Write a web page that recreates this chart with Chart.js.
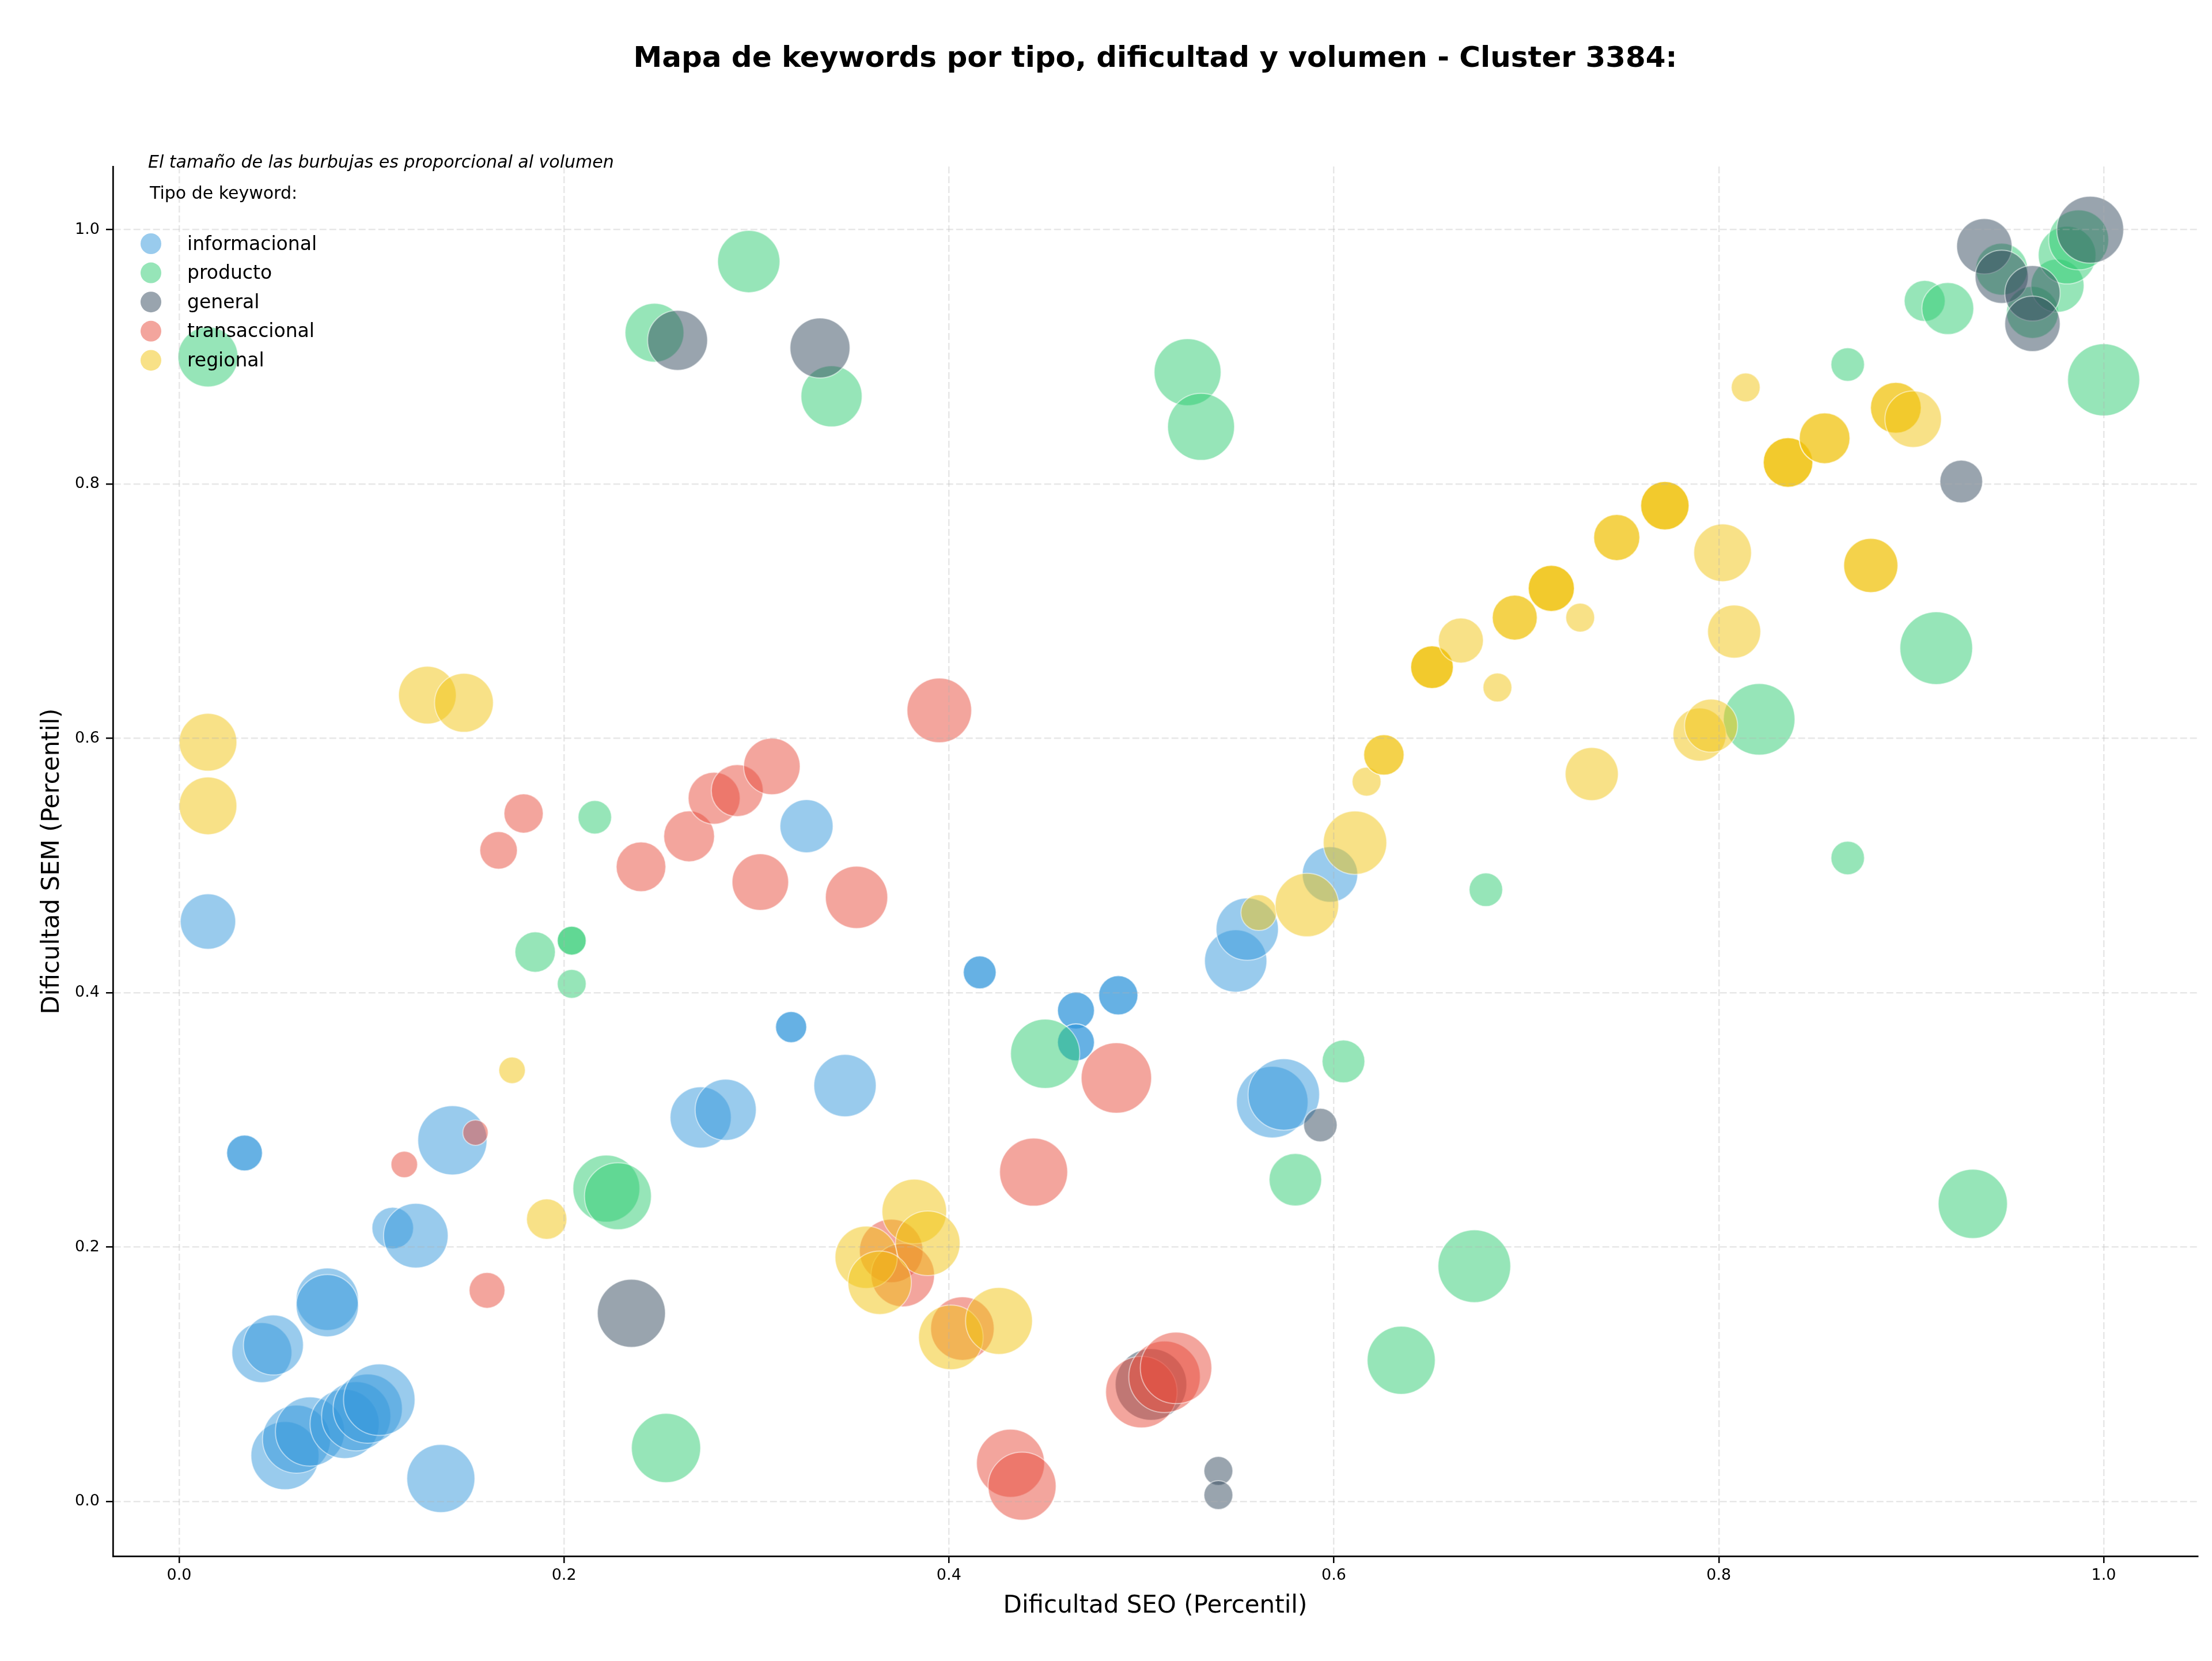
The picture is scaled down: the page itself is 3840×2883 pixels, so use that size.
<!DOCTYPE html>
<html>
<head>
<meta charset="utf-8">
<title>Mapa de keywords - Cluster 3384</title>
<script src="https://cdn.jsdelivr.net/npm/chart.js@4/dist/chart.umd.min.js"></script>
<style>
    body { margin: 0; background: #ffffff; }
    canvas { display: block; }
</style>
</head>
<body>
<canvas id="keywordsMap" width="3840" height="2883"></canvas>
<script>
//
//
// Data (dificultad SEO, dificultad SEM, volumen)
var categorias = ['informacional', 'producto', 'general', 'transaccional', 'regional'];

var informacionalSeo = [0.015, 0.034, 0.034, 0.043, 0.049, 0.055, 0.061, 0.068, 0.086, 0.092, 0.098, 0.104, 0.077, 0.077, 0.136, 0.111, 0.123, 0.142, 0.271, 0.284, 0.318, 0.318, 0.326, 0.346, 0.416, 0.416, 0.466, 0.466, 0.466, 0.466, 0.488, 0.488, 0.549, 0.555, 0.598, 0.568, 0.574];
var informacionalSem = [0.456, 0.274, 0.274, 0.117, 0.123, 0.036, 0.049, 0.055, 0.061, 0.067, 0.073, 0.080, 0.159, 0.154, 0.018, 0.215, 0.209, 0.284, 0.302, 0.308, 0.373, 0.373, 0.531, 0.327, 0.416, 0.416, 0.386, 0.386, 0.361, 0.361, 0.398, 0.398, 0.425, 0.450, 0.493, 0.314, 0.320];
var informacionalVol = [829, 346, 346, 973, 973, 1253, 1253, 1296, 1296, 1296, 1296, 1384, 1050, 1050, 1253, 467, 1129, 1296, 1011, 1011, 262, 262, 762, 1050, 292, 292, 369, 369, 369, 369, 416, 416, 1050, 1050, 829, 1384, 1384];

var productoSeo = [0.015, 0.296, 0.247, 0.216, 0.339, 0.524, 0.531, 0.185, 0.204, 0.204, 0.204, 0.222, 0.228, 0.253, 0.450, 0.605, 0.580, 0.673, 0.635, 0.679, 0.867, 0.907, 0.919, 1.000, 0.913, 0.821, 0.867, 0.932, 0.947, 0.963, 0.976, 0.981, 0.987];
var productoSem = [0.900, 0.975, 0.919, 0.538, 0.869, 0.888, 0.845, 0.432, 0.441, 0.441, 0.407, 0.246, 0.240, 0.042, 0.352, 0.346, 0.253, 0.185, 0.111, 0.481, 0.894, 0.944, 0.938, 0.882, 0.671, 0.615, 0.506, 0.234, 0.969, 0.935, 0.956, 0.980, 0.992];
var productoVol = [973, 1050, 936, 303, 1011, 1211, 1211, 441, 225, 225, 225, 1211, 1211, 1296, 1296, 493, 745, 1429, 1253, 303, 303, 454, 729, 1406, 1429, 1384, 303, 1296, 729, 729, 762, 900, 973];

var generalSeo = [0.259, 0.333, 0.235, 0.593, 0.540, 0.540, 0.505, 0.926, 0.938, 0.947, 0.963, 0.963, 0.993];
var generalSem = [0.913, 0.907, 0.148, 0.296, 0.024, 0.005, 0.092, 0.802, 0.987, 0.963, 0.950, 0.926, 1.000];
var generalVol = [973, 973, 1253, 303, 225, 225, 1384, 493, 829, 762, 829, 829, 1211];

var transaccionalSeo = [0.179, 0.166, 0.240, 0.265, 0.278, 0.290, 0.308, 0.302, 0.117, 0.154, 0.160, 0.395, 0.352, 0.487, 0.444, 0.370, 0.376, 0.407, 0.432, 0.438, 0.500, 0.512, 0.518];
var transaccionalSem = [0.541, 0.512, 0.499, 0.523, 0.553, 0.559, 0.578, 0.487, 0.265, 0.290, 0.166, 0.622, 0.475, 0.333, 0.259, 0.197, 0.178, 0.136, 0.030, 0.012, 0.086, 0.098, 0.105];
var transaccionalVol = [416, 380, 666, 697, 729, 729, 864, 864, 190, 174, 346, 1129, 1050, 1340, 1253, 1089, 1089, 1089, 1253, 1253, 1384, 1384, 1384];

var regionalSeo = [0.015, 0.015, 0.129, 0.148, 0.173, 0.191, 0.382, 0.389, 0.357, 0.364, 0.401, 0.426, 0.561, 0.586, 0.611, 0.617, 0.626, 0.626, 0.651, 0.651, 0.651, 0.666, 0.685, 0.694, 0.694, 0.713, 0.713, 0.713, 0.728, 0.747, 0.747, 0.772, 0.772, 0.772, 0.802, 0.808, 0.879, 0.879, 0.836, 0.836, 0.836, 0.855, 0.855, 0.814, 0.892, 0.892, 0.901, 0.790, 0.796, 0.734];
var regionalSem = [0.597, 0.547, 0.634, 0.628, 0.339, 0.222, 0.228, 0.203, 0.192, 0.172, 0.129, 0.142, 0.463, 0.469, 0.518, 0.566, 0.587, 0.587, 0.656, 0.656, 0.656, 0.677, 0.640, 0.695, 0.695, 0.718, 0.718, 0.718, 0.695, 0.758, 0.758, 0.783, 0.783, 0.783, 0.746, 0.684, 0.736, 0.736, 0.817, 0.817, 0.817, 0.836, 0.836, 0.876, 0.860, 0.860, 0.851, 0.603, 0.610, 0.572];
var regionalVol = [900, 900, 900, 936, 190, 441, 1129, 1129, 1050, 1089, 1129, 1211, 346, 1089, 1089, 225, 441, 441, 493, 493, 493, 548, 225, 548, 548, 576, 576, 576, 225, 576, 576, 635, 635, 635, 900, 762, 795, 795, 666, 666, 666, 697, 697, 225, 697, 697, 864, 762, 762, 762];

var xTicks = [0.0, 0.2, 0.4, 0.6, 0.8, 1.0];
var yTicks = [0.0, 0.2, 0.4, 0.6, 0.8, 1.0];

//
//
// Styles
var FONT = 'DejaVu Sans';
var DPI = 240;
var colores = {
    informacional: 'rgba(52, 152, 219, 0.5)',
    producto: 'rgba(46, 204, 113, 0.5)',
    general: 'rgba(52, 73, 94, 0.5)',
    transaccional: 'rgba(231, 76, 60, 0.5)',
    regional: 'rgba(241, 196, 15, 0.5)'
};

// scatter "s" (pt^2) -> radio en pixeles
function radio(vol) {
    return Math.sqrt(vol) * 0.5 * DPI / 72;
}

function puntos(seo, sem, vol) {
    return seo.map(function(x, i) {
        return { x: x, y: sem[i], r: radio(vol[i]) };
    });
}

var series = {
    informacional: puntos(informacionalSeo, informacionalSem, informacionalVol),
    producto: puntos(productoSeo, productoSem, productoVol),
    general: puntos(generalSeo, generalSem, generalVol),
    transaccional: puntos(transaccionalSeo, transaccionalSem, transaccionalVol),
    regional: puntos(regionalSeo, regionalSem, regionalVol)
};

var datasets = categorias.map(function(cat, i) {
    return {
        label: cat,
        data: series[cat],
        backgroundColor: colores[cat],
        borderColor: 'rgba(255, 255, 255, 0.5)',
        borderWidth: 2,
        order: categorias.length - i
    };
});

//
//
// Annotation + legend inside the axes
var leyendaPlugin = {
    id: 'leyendaKeywords',
    afterDraw: function(chart) {
        var ctx = chart.ctx;
        ctx.save();
        ctx.fillStyle = '#000';
        ctx.textAlign = 'left';
        ctx.textBaseline = 'alphabetic';
        ctx.font = 'italic 30px "' + FONT + '"';
        ctx.fillText('El tamaño de las burbujas es proporcional al volumen', 257, 291);
        ctx.font = '30px "' + FONT + '"';
        ctx.fillText('Tipo de keyword:', 260, 345);

        ctx.font = '33px "' + FONT + '"';
        ctx.textBaseline = 'middle';
        categorias.forEach(function(cat, i) {
            var y = 423 + i * 50.6;
            ctx.beginPath();
            ctx.arc(262, y, 18, 0, Math.PI * 2);
            ctx.fillStyle = colores[cat];
            ctx.fill();
            ctx.fillStyle = '#000';
            ctx.fillText(cat, 325, y + 2);
        });
        ctx.restore();
    }
};

//
// fixed axis boxes (no extra label padding)
function fijarAlto(scale) {
    scale.height = 182;
    scale.paddingLeft = 0;
    scale.paddingRight = 0;
}
function fijarAncho(scale) {
    scale.width = 196;
    scale.paddingTop = 0;
    scale.paddingBottom = 0;
}

var gridStyle = {
    color: 'rgba(176, 176, 176, 0.3)',
    lineWidth: 2.5,
    z: 1,
    tickLength: 12,
    tickColor: '#000',
    tickWidth: 2.5,
    tickBorderDash: []
};

//
//
// Draw Chart
var canvas = document.getElementById('keywordsMap');
new Chart(canvas.getContext('2d'), {
    type: 'bubble',
    data: { datasets: datasets },
    options: {
        responsive: false,
        animation: false,
        devicePixelRatio: 1,
        layout: {
            autoPadding: false,
            padding: { left: 0, right: 25, top: 0, bottom: 0 }
        },
        plugins: {
            legend: { display: false },
            tooltip: { enabled: false },
            title: {
                display: true,
                fullSize: false,
                text: 'Mapa de keywords por tipo, dificultad y volumen - Cluster 3384:',
                color: '#000',
                font: { family: FONT, size: 50, weight: 'bold' },
                padding: { top: 73, bottom: 156 }
            }
        },
        scales: {
            x: {
                type: 'linear',
                min: -0.0344,
                max: 1.0488,
                afterBuildTicks: function(scale) {
                    scale.ticks = xTicks.map(function(v) { return { value: v }; });
                },
                afterFit: fijarAlto,
                ticks: {
                    color: '#000',
                    font: { family: FONT, size: 27 },
                    padding: 6,
                    maxRotation: 0,
                    autoSkip: false,
                    callback: function(v) { return Number(v).toFixed(1); }
                },
                grid: gridStyle,
                border: { display: true, color: '#000', width: 2.7, dash: [12, 5], z: 1 },
                title: {
                    display: true,
                    text: 'Dificultad SEO (Percentil)',
                    color: '#000',
                    font: { family: FONT, size: 42 },
                    padding: { top: 0, bottom: 70 }
                }
            },
            y: {
                type: 'linear',
                min: -0.043,
                max: 1.0497,
                afterBuildTicks: function(scale) {
                    scale.ticks = yTicks.map(function(v) { return { value: v }; });
                },
                afterFit: fijarAncho,
                ticks: {
                    color: '#000',
                    font: { family: FONT, size: 27 },
                    padding: 11,
                    autoSkip: false,
                    callback: function(v) { return Number(v).toFixed(1); }
                },
                grid: gridStyle,
                border: { display: true, color: '#000', width: 2.7, dash: [12, 5], z: 1 },
                title: {
                    display: true,
                    text: 'Dificultad SEM (Percentil)',
                    color: '#000',
                    font: { family: FONT, size: 42 },
                    padding: { top: 66, bottom: 0 }
                }
            }
        }
    },
    plugins: [leyendaPlugin]
});
</script>
</body>
</html>
